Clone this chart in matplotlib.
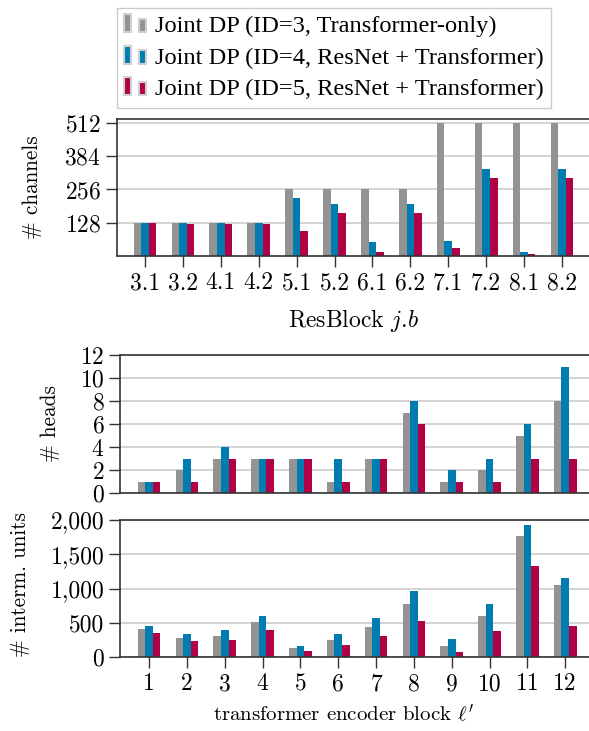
import numpy as np
import matplotlib.pyplot as plt
from matplotlib.patches import Rectangle
from matplotlib.legend_handler import HandlerBase

plt.rcParams['font.family'] = 'cmr10'
plt.rcParams['mathtext.fontset'] = 'cm'
plt.rcParams['axes.unicode_minus'] = False
plt.rcParams['axes.formatter.use_mathtext'] = True

# ResNet channels per ResBlock
resblocks = ['3.1', '3.2', '4.1', '4.2', '5.1', '5.2', '6.1', '6.2', '7.1', '7.2', '8.1', '8.2']
channels_id3 = [128, 128, 128, 128, 256, 256, 256, 256, 512, 512, 512, 512]
channels_id4 = [128, 128, 128, 128, 224, 200, 54, 200, 58, 334, 15, 334]
channels_id5 = [128, 125, 125, 125, 96, 165, 15, 165, 32, 300, 8, 300]

# transformer encoder blocks
encoder_blocks = ['1', '2', '3', '4', '5', '6', '7', '8', '9', '10', '11', '12']
heads_id3 = [1, 2, 3, 3, 3, 1, 3, 7, 1, 2, 5, 8]
heads_id4 = [1, 3, 4, 3, 3, 3, 3, 8, 2, 3, 6, 11]
heads_id5 = [1, 1, 3, 3, 3, 1, 3, 6, 1, 1, 3, 3]

units_id3 = [408, 277, 306, 510, 131, 248, 437, 772, 160, 597, 1762, 1048]
units_id4 = [451, 335, 393, 597, 160, 335, 568, 961, 262, 772, 1922, 1150]
units_id5 = [350, 233, 248, 393, 87, 175, 306, 524, 73, 379, 1325, 451]

labels = ['Joint DP (ID=3, Transformer-only)',
          'Joint DP (ID=4, ResNet + Transformer)',
          'Joint DP (ID=5, ResNet + Transformer)']
colors = ['#939393', '#007cb0', '#b00046']

spine_color = '#333333'
grid_color = '#c8c8c8'
fs = 17
ylabel_fs = 15.3


class TwoBars(HandlerBase):
    # pgfplots-style ybar legend image: two small bars
    def create_artists(self, legend, orig_handle, xdescent, ydescent,
                       width, height, fontsize, trans):
        c = orig_handle.get_facecolor()
        w = width * 0.3
        r1 = Rectangle((-xdescent, -ydescent), w, height * 1.05, facecolor=c,
                       edgecolor='#d0d0d0', lw=1.5, transform=trans)
        r2 = Rectangle((-xdescent + width * 0.68, -ydescent), w, height * 0.8,
                       facecolor=c, edgecolor='#d0d0d0', lw=1.5, transform=trans)
        return [r1, r2]


def bars(ax, series):
    x = np.arange(len(series[0]))
    width = 0.2
    handles = []
    for i, y in enumerate(series):
        h = ax.bar(x + (i - 1) * width, y, width, color=colors[i], linewidth=0)
        handles.append(h.patches[0])
    return x, handles


def style(ax):
    ax.set_axisbelow(True)
    ax.yaxis.grid(True, color=grid_color, lw=1.1)
    for s in ax.spines.values():
        s.set_color(spine_color)
        s.set_linewidth(1.2)
    ax.tick_params(axis='both', direction='out', length=8, width=1,
                   color=spine_color, labelsize=fs, top=False, right=False)


fig = plt.figure(figsize=(5.89, 7.31), dpi=100)

ax1 = fig.add_axes([117 / 589, 1 - 256 / 731, 473 / 589, 137 / 731])
x, handles = bars(ax1, [channels_id3, channels_id4, channels_id5])
style(ax1)
ax1.set_xlim(-0.74, 11.74)
ax1.set_ylim(0, 527)
ax1.set_yticks([128, 256, 384, 512])
ax1.set_xticks(x)
ax1.set_xticklabels(resblocks)
ax1.set_xlabel('ResBlock $j$.$b$', fontsize=17)
ax1.xaxis.set_label_coords(0.5, -0.37)
ax1.set_ylabel('# channels', fontsize=ylabel_fs)
ax1.yaxis.set_label_coords(-0.158, 0.5)

ax2 = fig.add_axes([120.3 / 589, 1 - 493 / 731, 473.7 / 589, 138 / 731])
bars(ax2, [heads_id3, heads_id4, heads_id5])
style(ax2)
ax2.set_xlim(-0.76, 11.76)
ax2.set_ylim(0, 12)
ax2.set_yticks(range(0, 13, 2))
ax2.set_xticks([])
ax2.set_ylabel('# heads', fontsize=ylabel_fs)
ax2.yaxis.set_label_coords(-0.128, 0.5)

ax3 = fig.add_axes([120.3 / 589, 1 - 657 / 731, 473.7 / 589, 137 / 731])
x, _ = bars(ax3, [units_id3, units_id4, units_id5])
style(ax3)
ax3.set_xlim(-0.76, 11.76)
ax3.set_ylim(0, 2000)
ax3.set_yticks([0, 500, 1000, 1500, 2000])
ax3.set_yticklabels(['0', '500', '1,000', '1,500', '2,000'])
ax3.set_xticks(x)
ax3.set_xticklabels(encoder_blocks)
ax3.set_xlabel("transformer encoder block $\\ell'$", fontsize=15)
ax3.xaxis.set_label_coords(0.472, -0.34)
ax3.set_ylabel('# interm. units', fontsize=ylabel_fs)
ax3.yaxis.set_label_coords(-0.19, 0.53)

leg = fig.legend(handles, labels, loc='upper left',
                 bbox_to_anchor=(117 / 589, 1 - 8 / 731), borderaxespad=0,
                 handler_map={Rectangle: TwoBars()},
                 prop={'family': 'Liberation Serif', 'size': 17.6},
                 handlelength=0.9, handleheight=0.7, handletextpad=0.36,
                 labelspacing=0.38, borderpad=0.3, fancybox=False,
                 edgecolor='#cccccc', framealpha=1)
leg.get_frame().set_linewidth(1.0)

fig.savefig('out.png', dpi=100)
